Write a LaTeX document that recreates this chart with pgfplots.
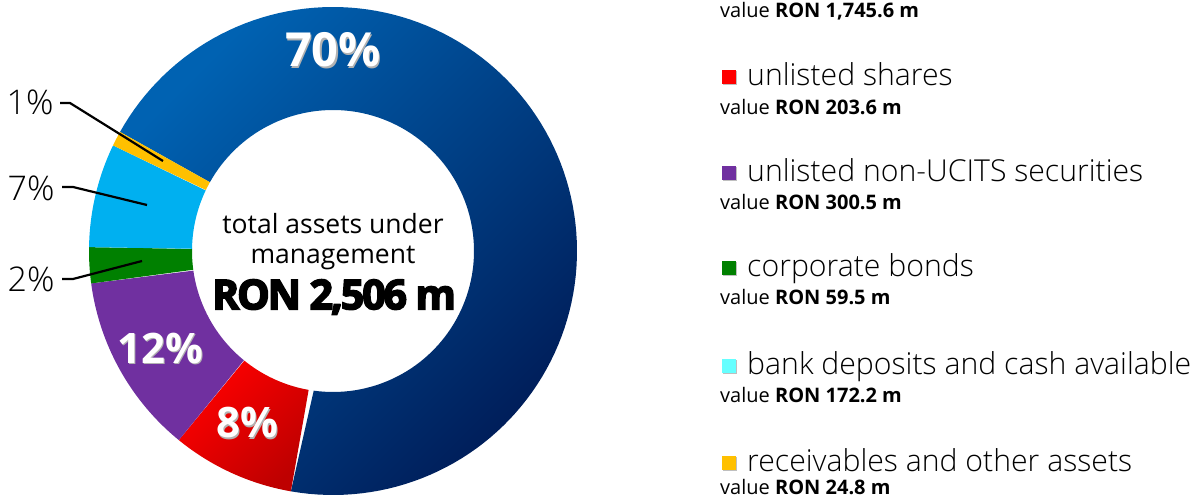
\documentclass[border=0pt]{standalone}
\usepackage{pgfplots}
\pgfplotsset{compat=1.18}
\usepackage{pgfplotstable}
\usepackage{fontspec}
\setmainfont{Open Sans}
\newfontfamily\osl{Open Sans Light}
\newfontfamily\osx{Open Sans Bold}[FakeBold=4, LetterSpace=-5]
\definecolor{blueL}{HTML}{0062B2}
\definecolor{blueD}{HTML}{001E5A}
\definecolor{redL}{HTML}{FF0000}
\definecolor{redD}{HTML}{BE0000}
\definecolor{purp}{HTML}{7030A0}
\definecolor{grn}{HTML}{008000}
\definecolor{cyn}{HTML}{00B0F0}
\definecolor{cynL}{HTML}{66FFFF}
\definecolor{yel}{HTML}{FFC000}
\pgfplotstableread{
name value
listed 1745.6
unlisted 203.6
ucits 300.5
bonds 59.5
deposits 172.2
receivables 24.8
}\assets
\newcommand\slice[3]{%
\addplot[#3, draw=none, domain=0:2, samples=241, variable=\t]
 ({333+ifthenelse(\t<1,244,141)*cos(#1-(#2)*min(\t,2-\t))},
  {248+ifthenelse(\t<1,244,141)*sin(#1-(#2)*min(\t,2-\t))});}
\newcommand\fs[1]{\fontsize{#1bp}{1.2\dimexpr#1bp\relax}\selectfont}
\newcommand\pct[4]{%
  \node[text=black!30, font=\bfseries\fs{#4}] at (axis cs:#1+1.2,#2-1.2) {#3};
  \node[text=white, font=\bfseries\fs{#4}] at (axis cs:#1,#2) {#3};}
\newcommand\val[2]{\node[anchor=base west, font=\fs{20}, inner sep=0pt] at (axis cs:720,#1) {value \textbf{RON #2 m}};}
\newcommand\lab[3]{%
  \fill[black!25] (axis cs:723,#1+1) rectangle (axis cs:737,#1+15);
  \fill[#2] (axis cs:722,#1+2) rectangle (axis cs:736,#1+16);
  \node[anchor=base west, font=\osl\fs{30.2}, inner sep=0pt] at (axis cs:747,#1) {#3};}
\begin{document}
\begin{tikzpicture}
\pgfplotstablegetelem{0}{value}\of\assets \let\vA\pgfplotsretval
\pgfplotstablegetelem{1}{value}\of\assets \let\vB\pgfplotsretval
\pgfplotstablegetelem{2}{value}\of\assets \let\vC\pgfplotsretval
\pgfplotstablegetelem{3}{value}\of\assets \let\vD\pgfplotsretval
\pgfplotstablegetelem{4}{value}\of\assets \let\vE\pgfplotsretval
\pgfplotstablegetelem{5}{value}\of\assets \let\vF\pgfplotsretval
\pgfmathsetmacro\tot{\vA+\vB+\vC+\vD+\vE+\vF}
\pgfmathsetmacro\sA{\vA/\tot*360}
\pgfmathsetmacro\sB{\vB/\tot*360}
\pgfmathsetmacro\sC{\vC/\tot*360}
\pgfmathsetmacro\sD{\vD/\tot*360}
\pgfmathsetmacro\sE{\vE/\tot*360}
\pgfmathsetmacro\sF{\vF/\tot*360}
\pgfmathsetmacro\aA{150.8}
\pgfmathsetmacro\aB{\aA-\sA}
\pgfmathsetmacro\aC{\aB-\sB}
\pgfmathsetmacro\aD{\aC-\sC}
\pgfmathsetmacro\aE{\aD-\sD}
\pgfmathsetmacro\aF{\aE-\sE}
\begin{axis}[scale only axis, width=1193bp, height=499bp,
  xmin=0, xmax=1193, ymin=0, ymax=499, hide axis, clip=false]
\slice{\aA}{\sA}{top color=blueL, bottom color=blueD, shading angle=45}
\slice{\aB}{\sB}{top color=redL, bottom color=redD, shading angle=45}
\slice{\aC}{\sC}{fill=purp}
\slice{\aD}{\sD}{fill=grn}
\slice{\aE}{\sE}{fill=cyn}
\slice{\aF}{\sF}{fill=yel}
\coordinate (bl) at (axis cs:0,0);
\coordinate (tr) at (axis cs:1193,499);
% percentage labels inside
\pct{333}{449}{70\%}{47}
\pct{160}{151}{12\%}{42}
\pct{247}{76}{8\%}{42}
% outside labels with leaders
\node[font=\osl\fs{34}, anchor=base east] at (axis cs:57,384) {1\%};
\node[font=\osl\fs{34}, anchor=base east] at (axis cs:58,298) {7\%};
\node[font=\osl\fs{34}, anchor=base east] at (axis cs:58,207) {2\%};
\draw[line width=2.2bp] (axis cs:60,396)--(axis cs:70,396)--(axis cs:163,338);
\draw[line width=2.2bp] (axis cs:62,312)--(axis cs:73,312)--(axis cs:147,294);
\draw[line width=2.2bp] (axis cs:62,220)--(axis cs:73,220)--(axis cs:142,238);
% centre text
\node[font=\fs{26.5}] at (axis cs:333,275) {total assets under};
\node[font=\fs{26.5}] at (axis cs:333,241) {management};
\node[font=\osx\fs{41}] at (axis cs:334,202) {RON 2,506 m};
% legend
\val{481}{1,745.6}
\lab{413}{redL}{unlisted shares}
\val{384}{203.6}
\lab{317}{purp}{unlisted non-UCITS securities}
\val{289}{300.5}
\lab{222}{grn}{corporate bonds}
\val{194}{59.5}
\lab{124}{cynL}{bank deposits and cash available}
\val{96}{172.2}
\lab{27}{yel}{receivables and other assets}
\val{4}{24.8}
\end{axis}
\pgfresetboundingbox
\path (bl) rectangle (tr);
\end{tikzpicture}
\end{document}
